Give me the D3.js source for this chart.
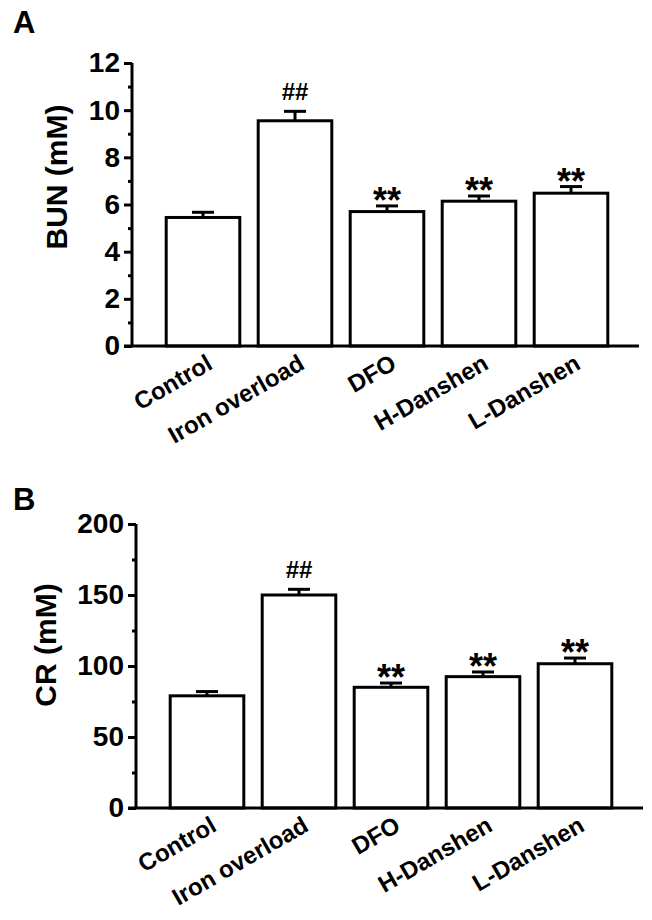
<!DOCTYPE html>
<html>
<head>
<meta charset="utf-8">
<script src="https://d3js.org/d3.v7.min.js"></script>
<style>
  body { margin: 0; background: #fff; }
  text { font-family: "Liberation Sans", Arial, sans-serif; fill: #000; }
</style>
</head>
<body>
<div id="chart"></div>
<script>
// groups and values
const groups = ["Control", "Iron overload", "DFO", "H-Danshen", "L-Danshen"];
const bunMean = [5.45, 9.55, 5.70, 6.14, 6.48];
const bunErr = [0.22, 0.40, 0.24, 0.22, 0.28];
const bunTicks = [0, 2, 4, 6, 8, 10, 12];
const bunMinor = [1, 3, 5, 7, 9, 11];
const crMean = [79, 150, 85, 92.5, 101.6];
const crErr = [3, 4, 3, 3.3, 4];
const crTicks = [0, 50, 100, 150, 200];
const crMinor = [25, 75, 125, 175];
const marks = ["", "##", "**", "**", "**"];

const w = 652, h = 920;
const svg = d3.select("#chart").append("svg")
  .attr("width", w)
  .attr("height", h);

function panel(o) {
  const g = svg.append("g");

  const x = d3.scaleBand()
    .domain(groups)
    .range([o.left + 25, o.left + 485])
    .paddingInner(0.2)
    .paddingOuter(0.1);

  const y = d3.scaleLinear()
    .domain([0, o.max])
    .range([o.base, o.top]);

  // panel letter
  g.append("text")
    .attr("x", 13)
    .attr("y", o.letterY)
    .style("font-size", "31px")
    .style("font-weight", "bold")
    .text(o.letter);

  // bars
  g.selectAll("rect.bar")
    .data(groups)
    .enter()
    .append("rect")
    .attr("class", "bar")
    .attr("x", (d) => x(d))
    .attr("y", (d, i) => y(o.mean[i]))
    .attr("width", x.bandwidth())
    .attr("height", (d, i) => y(0) - y(o.mean[i]))
    .attr("fill", "#fff")
    .attr("stroke", "#000")
    .attr("stroke-width", 3);

  // error bars (upper only)
  const eb = g.selectAll("g.err")
    .data(groups)
    .enter()
    .append("g")
    .attr("class", "err");
  eb.append("line")
    .attr("x1", (d) => x(d) + x.bandwidth() / 2)
    .attr("x2", (d) => x(d) + x.bandwidth() / 2)
    .attr("y1", (d, i) => y(o.mean[i]))
    .attr("y2", (d, i) => y(o.mean[i] + o.err[i]))
    .attr("stroke", "#000")
    .attr("stroke-width", 3);
  eb.append("line")
    .attr("x1", (d) => x(d) + x.bandwidth() / 2 - 11)
    .attr("x2", (d) => x(d) + x.bandwidth() / 2 + 11)
    .attr("y1", (d, i) => y(o.mean[i] + o.err[i]))
    .attr("y2", (d, i) => y(o.mean[i] + o.err[i]))
    .attr("stroke", "#000")
    .attr("stroke-width", 3);

  // significance marks
  g.selectAll("text.sig")
    .data(groups)
    .enter()
    .append("text")
    .attr("class", "sig")
    .attr("x", (d) => x(d) + x.bandwidth() / 2)
    .attr("y", (d, i) => y(o.mean[i] + o.err[i]) - (marks[i] == "##" ? 11 : -7))
    .attr("text-anchor", "middle")
    .style("font-size", (d, i) => marks[i] == "##" ? "24px" : "36px")
    .style("font-weight", "bold")
    .text((d, i) => marks[i]);

  // y axis
  const yAxis = d3.axisLeft(y).tickValues(o.ticks).tickSize(8).tickPadding(4);
  const ya = g.append("g")
    .attr("transform", "translate(" + o.left + ",0)")
    .call(yAxis);
  ya.select(".domain").attr("stroke-width", 3).attr("d", "M0," + o.base + "V" + o.top);
  ya.selectAll(".tick line").attr("stroke-width", 3);
  ya.selectAll(".tick text")
    .style("font-size", "28px")
    .style("font-weight", "bold")
    .style("font-family", "'Liberation Sans', Arial, sans-serif");

  const yMinor = d3.axisLeft(y).tickValues(o.minor).tickSize(4).tickFormat("");
  const ym = g.append("g")
    .attr("transform", "translate(" + o.left + ",0)")
    .call(yMinor);
  ym.select(".domain").remove();
  ym.selectAll(".tick line").attr("stroke-width", 3);

  // x axis line
  g.append("line")
    .attr("x1", o.left - 8)
    .attr("x2", o.left + 507)
    .attr("y1", o.base)
    .attr("y2", o.base)
    .attr("stroke", "#000")
    .attr("stroke-width", 3);

  // category labels
  g.selectAll("text.cat")
    .data(groups)
    .enter()
    .append("text")
    .attr("class", "cat")
    .attr("transform", (d) => "translate(" + (x(d) + x.bandwidth() / 2 + 11) + "," + (o.base + 22) + ") rotate(-30)")
    .attr("text-anchor", "end")
    .style("font-size", "24px")
    .style("font-weight", "bold")
    .text((d) => d);

  // y axis title
  g.append("text")
    .attr("transform", "translate(" + o.titleX + "," + o.titleY + ") rotate(-90)")
    .attr("text-anchor", "middle")
    .style("font-size", "30px")
    .style("font-weight", "bold")
    .text(o.title);
}

panel({ letter: "A", letterY: 33, left: 132, top: 63, base: 346, max: 12,
        mean: bunMean, err: bunErr, ticks: bunTicks, minor: bunMinor,
        title: "BUN (mM)", titleX: 67, titleY: 177 });

panel({ letter: "B", letterY: 510, left: 136, top: 524, base: 808, max: 200,
        mean: crMean, err: crErr, ticks: crTicks, minor: crMinor,
        title: "CR (mM)", titleX: 56, titleY: 645 });
</script>
</body>
</html>
